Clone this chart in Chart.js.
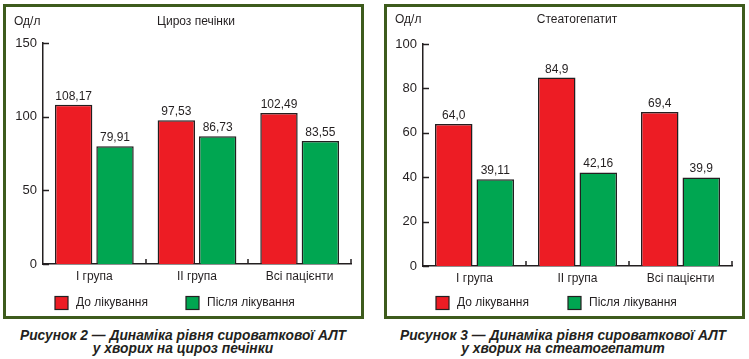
<!DOCTYPE html>
<html><head><meta charset="utf-8">
<script src="https://cdn.jsdelivr.net/npm/chart.js@4"></script>
<style>
html,body{margin:0;padding:0;background:#fff;width:749px;height:359px;overflow:hidden;}
.box{position:absolute;border:3px solid #3d5b1c;box-sizing:border-box;}
canvas{position:absolute;top:0;}
.cap{position:absolute;font-family:'Liberation Sans',Arial,sans-serif;font-weight:bold;font-style:italic;font-size:13.8px;line-height:13px;color:#231f20;text-align:center;white-space:nowrap;}
</style></head><body>
<div class="box" style="left:3px;top:4px;width:361px;height:315px"></div>
<div class="box" style="left:384px;top:4px;width:361px;height:315px"></div>
<canvas id="c1" style="left:0;" width="375" height="320"></canvas>
<canvas id="c2" style="left:375px;" width="374" height="320"></canvas>
<div class="cap" style="left:0;top:329px;width:366px">Рисунок 2 — Динаміка рівня сироваткової АЛТ<br>у хворих на цироз печінки</div>
<div class="cap" style="left:380px;top:329px;width:366px">Рисунок 3 — Динаміка рівня сироваткової АЛТ<br>у хворих на стеатогепатит</div>
<script>
// ---- data ----
const categories = ['І група', 'ІІ група', 'Всі пацієнти'];
const seriesNames = ['До лікування', 'Після лікування'];
const unitLabel = 'Од/л';

const cirrhosisTitle = 'Цироз печінки';
const cirrhosisBefore = [108.17, 97.53, 102.49];
const cirrhosisAfter = [79.91, 86.73, 83.55];
const cirrhosisBeforeLabels = ['108,17', '97,53', '102,49'];
const cirrhosisAfterLabels = ['79,91', '86,73', '83,55'];
const cirrhosisTicks = [0, 50, 100, 150];

const steatoTitle = 'Стеатогепатит';
const steatoBefore = [64.0, 84.9, 69.4];
const steatoAfter = [39.11, 42.16, 39.9];
const steatoBeforeLabels = ['64,0', '84,9', '69,4'];
const steatoAfterLabels = ['39,11', '42,16', '39,9'];
const steatoTicks = [0, 20, 40, 60, 80, 100];

// ---- style ----
const RED = '#ed1c24', GREEN = '#00a651', INK = '#231f20';
const FONT = "'Liberation Sans Narrow','Arial Narrow','Liberation Sans',Arial,sans-serif";

const overlay = {
  id: 'overlay',
  afterDraw(chart, args, o) {
    const ctx = chart.ctx, ca = chart.chartArea, x = chart.scales.x, y = chart.scales.y;
    ctx.save();
    ctx.strokeStyle = INK; ctx.lineWidth = 1.5;
    // inner y ticks
    y.ticks.forEach(t => {
      const py = Math.round(y.getPixelForValue(t.value)) + 0.5;
      ctx.beginPath(); ctx.moveTo(ca.left, py); ctx.lineTo(ca.left + 6, py); ctx.stroke();
    });
    // inner x boundary ticks
    const step = x.getPixelForValue(1) - x.getPixelForValue(0);
    for (let i = 0; i < chart.data.labels.length; i++) {
      const px = Math.round(x.getPixelForValue(i) + step / 2);
      ctx.beginPath(); ctx.moveTo(px, ca.bottom); ctx.lineTo(px, ca.bottom - 5); ctx.stroke();
    }
    ctx.fillStyle = INK;
    // value labels
    ctx.font = '12px ' + FONT; ctx.textAlign = 'center'; ctx.textBaseline = 'alphabetic';
    chart.data.datasets.forEach((ds, di) => {
      chart.getDatasetMeta(di).data.forEach((bar, i) => {
        ctx.fillText(ds.valueLabels[i], bar.x, bar.y - 5);
      });
    });
    // title & unit
    ctx.textBaseline = 'middle';
    ctx.font = '12px ' + FONT;
    ctx.textAlign = 'center'; ctx.fillText(o.title, o.titleX, o.titleY);
    ctx.textAlign = 'left'; ctx.fillText(unitLabel, o.unitX, o.titleY);
    // legend
    chart.data.datasets.forEach((ds, di) => {
      const bx = o.legendX[di], by = o.legendY;
      ctx.fillStyle = ds.backgroundColor; ctx.fillRect(bx, by - 6.5, 13, 13);
      ctx.lineWidth = 1.2; ctx.strokeRect(bx, by - 6.5, 13, 13);
      ctx.fillStyle = INK; ctx.textAlign = 'left';
      ctx.fillText(ds.label, bx + 21, by);
    });
    ctx.restore();
  }
};

function makeChart(id, before, after, bLabels, aLabels, ticks, title, geo) {
  new Chart(document.getElementById(id), {
    type: 'bar',
    data: {
      labels: categories,
      datasets: [
        { label: seriesNames[0], data: before, valueLabels: bLabels, backgroundColor: RED, borderColor: INK, borderWidth: 1.5 },
        { label: seriesNames[1], data: after, valueLabels: aLabels, backgroundColor: GREEN, borderColor: INK, borderWidth: 1.5 }
      ]
    },
    options: {
      responsive: false, animation: false, devicePixelRatio: 1,
      layout: { padding: { left: 0, top: geo.top, right: geo.right, bottom: 0 } },
      datasets: { bar: { categoryPercentage: 0.806, barPercentage: 0.904 } },
      plugins: {
        legend: { display: false }, tooltip: { enabled: false },
        overlay: { title: title, titleX: geo.titleX, titleY: geo.titleY, unitX: geo.unitX, legendX: geo.legendX, legendY: geo.legendY }
      },
      scales: {
        x: {
          grid: { display: false, drawTicks: false },
          border: { display: true, color: INK, width: 1.5 },
          ticks: { color: INK, font: { family: FONT, size: 12 }, padding: 5 },
          afterFit: s => { s.height = geo.xH; }
        },
        y: {
          min: 0, max: ticks[ticks.length - 1],
          afterBuildTicks: s => { s.ticks = ticks.map(v => ({ value: v })); },
          grid: { display: false, drawTicks: false },
          border: { display: true, color: INK, width: 1.5 },
          ticks: { color: INK, font: { family: FONT, size: 13 }, padding: 6 },
          afterFit: s => { s.width = geo.yW; }
        }
      }
    },
    plugins: [overlay]
  });
}

makeChart('c1', cirrhosisBefore, cirrhosisAfter, cirrhosisBeforeLabels, cirrhosisAfterLabels, cirrhosisTicks, cirrhosisTitle,
  { top: 43, right: 24, xH: 56, yW: 43, titleX: 196, titleY: 22, unitX: 14, legendX: [55, 186], legendY: 303 });
makeChart('c2', steatoBefore, steatoAfter, steatoBeforeLabels, steatoAfterLabels, steatoTicks, steatoTitle,
  { top: 44, right: 17, xH: 54, yW: 48, titleX: 202, titleY: 20, unitX: 20, legendX: [61, 193], legendY: 303 });
</script>
</body></html>
